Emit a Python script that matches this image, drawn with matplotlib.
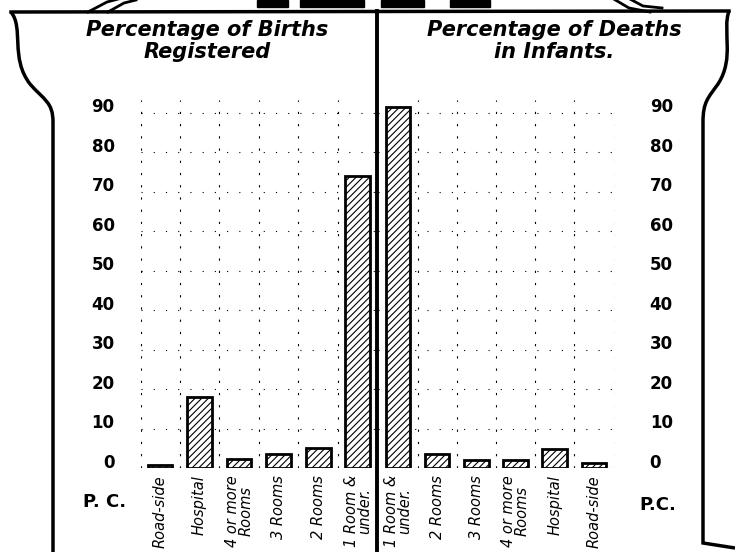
import matplotlib
matplotlib.use("Agg")
import matplotlib.pyplot as plt
from matplotlib.path import Path
from matplotlib.patches import PathPatch, Rectangle
from matplotlib.transforms import ScaledTranslation

# data (per cent)
birth_cats = ["Road-side", "Hospital", "4 or more\nRooms", "3 Rooms", "2 Rooms", "1 Room &\nunder."]
birth_pc = [0.8, 18, 2.3, 3.5, 5, 74]
death_cats = ["1 Room &\nunder.", "2 Rooms", "3 Rooms", "4 or more\nRooms", "Hospital", "Road-side"]
death_pc = [91.4, 3.5, 2, 2, 4.8, 1.2]
yticks = [0, 10, 20, 30, 40, 50, 60, 70, 80, 90]

W, H = 735, 552
plt.rcParams['hatch.linewidth'] = 0.8
fig = plt.figure(figsize=(W / 100, H / 100), dpi=100)


def box(x0, y0, x1, y1):
    # pixel box (top-left origin) -> figure fraction
    return [x0 / W, 1 - y1 / H, (x1 - x0) / W, (y1 - y0) / H]


def panel(rect, cats, vals, xlim, right=False):
    ax = fig.add_axes(rect)
    pos = list(range(len(vals)))
    ax.bar(pos, vals, width=0.63, color="white", edgecolor="black",
           linewidth=2, hatch="/////", zorder=3)
    ax.set_xlim(*xlim)
    ax.set_ylim(0, 93.2)
    for s in ax.spines.values():
        s.set_visible(False)
    ax.set_xticks(pos)
    ax.set_xticklabels(cats, rotation=90, fontsize=10.5, style="italic",
                       va="top", ha="center", linespacing=0.85)
    ax.set_xticks([p + 0.5 for p in pos[:-1]] + [xlim[1] if right else xlim[0]], minor=True)
    ax.set_yticks(yticks)
    ax.set_yticklabels([str(v) for v in yticks], fontsize=12, fontweight="bold")
    ax.tick_params(axis="both", which="both", length=0)
    ax.tick_params(axis="x", pad=5)
    if right:
        ax.yaxis.tick_right()
        ax.tick_params(axis="y", pad=25)
    else:
        ax.tick_params(axis="y", pad=19)
    shift = ScaledTranslation(0, 7.5 / 100, fig.dpi_scale_trans)
    for lab in ax.get_yticklabels():
        lab.set_transform(lab.get_transform() + shift)
    ax.grid(True, axis="y", which="major", color="black", linestyle=(0, (1, 10)), linewidth=0.8)
    ax.grid(True, axis="x", which="minor", color="black", linestyle=(0, (2, 9)), linewidth=0.8)
    ax.set_axisbelow(True)
    return ax


ax1 = panel(box(141, 100, 377, 468), birth_cats, birth_pc, (-0.48, 5.49))
ax2 = panel(box(378, 100, 615, 468), death_cats, death_pc, (-0.51, 5.54), right=True)

# frame, titles, and the bits of ornament left at the top
deco = fig.add_axes([0, 0, 1, 1], zorder=5)
deco.set_xlim(0, W)
deco.set_ylim(H, 0)
deco.axis("off")
deco.patch.set_visible(False)

deco.plot([11, 729], [12, 11], color="black", lw=2.5)
deco.plot([377, 377], [11, 552], color="black", lw=2.8)
left_scroll = Path([(11, 12), (24, 28), (10, 58), (30, 84), (44, 100), (53, 102), (53, 122), (53, 552)],
                   [Path.MOVETO, Path.CURVE4, Path.CURVE4, Path.CURVE4,
                    Path.CURVE4, Path.CURVE4, Path.CURVE4, Path.LINETO])
deco.add_patch(PathPatch(left_scroll, fill=False, lw=2.5, color="black"))
right_scroll = Path([(729, 11), (722, 30), (735, 58), (718, 84), (708, 98), (703, 102), (703, 122),
                     (703, 543), (735, 548)],
                    [Path.MOVETO, Path.CURVE4, Path.CURVE4, Path.CURVE4,
                     Path.CURVE4, Path.CURVE4, Path.CURVE4, Path.LINETO, Path.LINETO])
deco.add_patch(PathPatch(right_scroll, fill=False, lw=2.5, color="black"))
for a, b in [((88, 12), (122, -2)), ((108, 12), (136, 0))]:
    deco.plot([a[0], (a[0] + b[0]) / 2 + 2, b[0]], [a[1], (a[1] + b[1]) / 2 - 3, b[1]], color="black", lw=2)
for a, b in [((612, -2), (650, 12)), ((628, -2), (662, 8))]:
    deco.plot([a[0], (a[0] + b[0]) / 2 - 2, b[0]], [a[1], (a[1] + b[1]) / 2 + 3, b[1]], color="black", lw=2)
for x0, x1 in [(257, 288), (300, 364), (381, 424), (450, 490)]:
    deco.add_patch(Rectangle((x0, 0), x1 - x0, 7, color="black"))

tkw = dict(ha="center", va="center", fontsize=15, fontweight="bold", style="italic", linespacing=1.1)
deco.text(207, 41, "Percentage of Births\nRegistered", **tkw)
deco.text(554, 41, "Percentage of Deaths\nin Infants.", **tkw)
deco.text(105, 502, "P. C.", ha="center", va="center", fontsize=13, fontweight="bold")
deco.text(658, 505, "P.C.", ha="center", va="center", fontsize=13, fontweight="bold")

fig.savefig("out.png", dpi=100)
